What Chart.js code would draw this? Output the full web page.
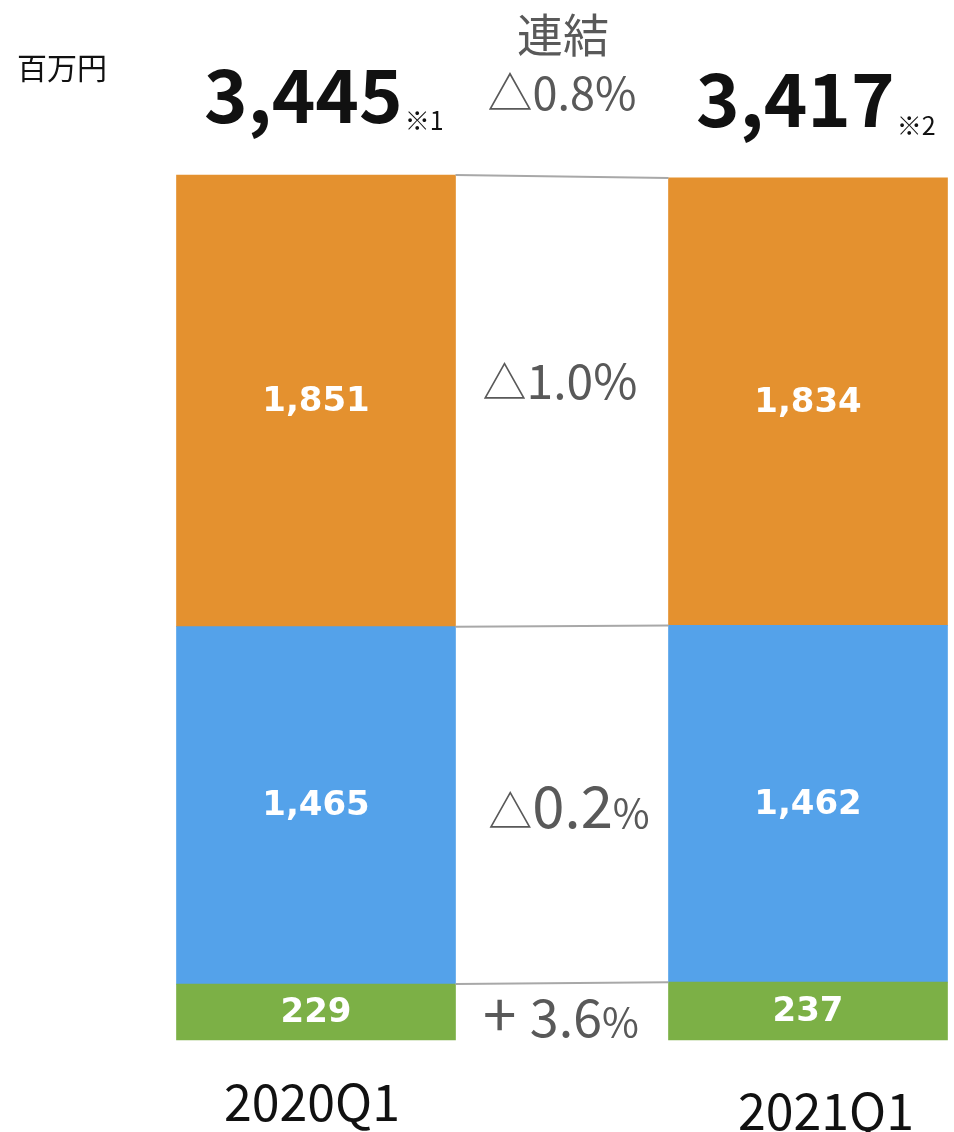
<!DOCTYPE html>
<html>
<head>
<meta charset="utf-8">
<script src="https://cdn.jsdelivr.net/npm/chart.js@4/dist/chart.umd.min.js"></script>
<style>
  html, body { margin:0; padding:0; background:#fff; }
  #wrap { width:954px; height:1132px; }
</style>
</head>
<body>
<div id="wrap"><canvas id="chart" width="954" height="1132"></canvas></div>
<script>
// ================= DATA =================
const categories = ["2020Q1", "2021Q1"];
const greenValues = [229, 237];
const blueValues = [1465, 1462];
const orangeValues = [1851, 1834];

const totalLabels = ["3,445", "3,417"];
const noteLabels = ["※1", "※2"];
// change per segment: green, blue, orange
const changeLabels = ["+3.6%", "△0.2%", "△1.0%"];
const groupLabel = "連結";
const groupChange = "△0.8%";
const unitLabel = "百万円";

const COLORS = ["#7cb046", "#54a2ea", "#e4912f"];
const CJK = "'Noto Sans CJK JP', 'Noto Sans', sans-serif";

const stackMax = Math.max(...categories.map((_, i) => greenValues[i] + blueValues[i] + orangeValues[i]));

// font sizes for [sign, number, percent] of each change label
const changeFonts = [[60, 52, 40], [44, 58, 40], [44, 48, 48]];
const changeBase = [1037, 828, 399];
const changeDx = [-1, 7, -2];

// ================= HELPERS =================
function splitChange(label){
  const sign = label.charAt(0);
  const pct = label.slice(-1);
  const num = label.slice(1, -1);
  return [sign === "+" ? "+ " : sign, num, pct];
}

function drawRich(ctx, parts, sizes, cx, baseline){
  const widths = parts.map((p, i) => {
    ctx.font = sizes[i] + "px " + CJK;
    return ctx.measureText(p).width;
  });
  let x = cx - widths.reduce((a, b) => a + b, 0) / 2;
  parts.forEach((p, i) => {
    ctx.font = sizes[i] + "px " + CJK;
    ctx.fillText(p, x, baseline);
    x += widths[i];
  });
}

// ================= OVERLAY =================
const overlay = {
  id: "overlay",
  afterDatasetsDraw(chart){
    const ctx = chart.ctx;
    const metas = [0,1,2].map(i => chart.getDatasetMeta(i));
    const values = [greenValues, blueValues, orangeValues];

    // connector lines between the two bars
    ctx.save();
    ctx.strokeStyle = "#a8a8a8";
    ctx.lineWidth = 2;
    metas.forEach(m => {
      const a = m.data[0], b = m.data[1];
      ctx.beginPath();
      ctx.moveTo(a.x + a.width/2, a.y);
      ctx.lineTo(b.x - b.width/2, b.y);
      ctx.stroke();
    });

    // segment values
    ctx.fillStyle = "#fff";
    ctx.font = "bold 34px 'DejaVu Sans', sans-serif";
    ctx.textAlign = "center";
    ctx.textBaseline = "middle";
    metas.forEach((m, s) => {
      m.data.forEach((el, i) => {
        ctx.fillText(values[s][i].toLocaleString("en-US"), el.x, (el.y + el.base)/2 + 1);
      });
    });

    // change labels in the gap
    ctx.fillStyle = "#595959";
    ctx.textAlign = "left";
    ctx.textBaseline = "alphabetic";
    metas.forEach((m, s) => {
      const a = m.data[0], b = m.data[1];
      const x = ((a.x + a.width/2) + (b.x - b.width/2)) / 2 + changeDx[s];
      drawRich(ctx, splitChange(changeLabels[s]), changeFonts[s], x, changeBase[s]);
    });
    ctx.restore();
  },
  afterDraw(chart){
    const ctx = chart.ctx;
    const top = chart.getDatasetMeta(2).data;
    ctx.save();

    ctx.fillStyle = "#111";
    ctx.font = "30px " + CJK;
    ctx.textAlign = "left";
    ctx.textBaseline = "middle";
    ctx.fillText(unitLabel, 17, 68);

    // totals
    const totalY = [123, 127];
    const noteY = [130, 135];
    top.forEach((el, i) => {
      const x = el.x - 112;
      ctx.fillStyle = "#111";
      ctx.font = "bold 74px " + CJK;
      ctx.textBaseline = "alphabetic";
      ctx.textAlign = "left";
      ctx.fillText(totalLabels[i], x, totalY[i]);
      const w = ctx.measureText(totalLabels[i]).width;
      ctx.font = "25px " + CJK;
      ctx.fillText(noteLabels[i], x + w + 2, noteY[i]);
    });

    // group header
    const midX = ((top[0].x + top[0].width/2) + (top[1].x - top[1].width/2)) / 2;
    ctx.fillStyle = "#595959";
    ctx.textAlign = "center";
    ctx.textBaseline = "middle";
    ctx.font = "46px " + CJK;
    ctx.fillText(groupLabel, midX + 1, 35);
    ctx.font = "45px " + CJK;
    ctx.fillText(groupChange, midX, 93);

    // x labels
    const labelDx = [-4, 18];
    const labelY = [1102, 1111];
    ctx.fillStyle = "#111";
    ctx.font = "50px " + CJK;
    top.forEach((el, i) => {
      ctx.fillText(categories[i], el.x + labelDx[i], labelY[i]);
    });
    ctx.restore();
  }
};

// ================= CHART =================
const seriesList = [greenValues, blueValues, orangeValues];

new Chart(document.getElementById("chart"), {
  type: "bar",
  data: {
    labels: categories,
    datasets: seriesList.map((vals, i) => ({
      data: vals,
      backgroundColor: COLORS[i],
      borderWidth: 0,
      barThickness: 279,
      clip: false
    }))
  },
  options: {
    responsive: false,
    animation: false,
    layout: { padding: { left: 316, right: 146, top: 175, bottom: 92 } },
    plugins: { legend: { display: false }, tooltip: { enabled: false } },
    scales: {
      x: { stacked: true, offset: false, display: false, grid: { display: false } },
      y: { stacked: true, display: false, min: 0, max: stackMax, grid: { display: false } }
    }
  },
  plugins: [overlay]
});
</script>
</body>
</html>
